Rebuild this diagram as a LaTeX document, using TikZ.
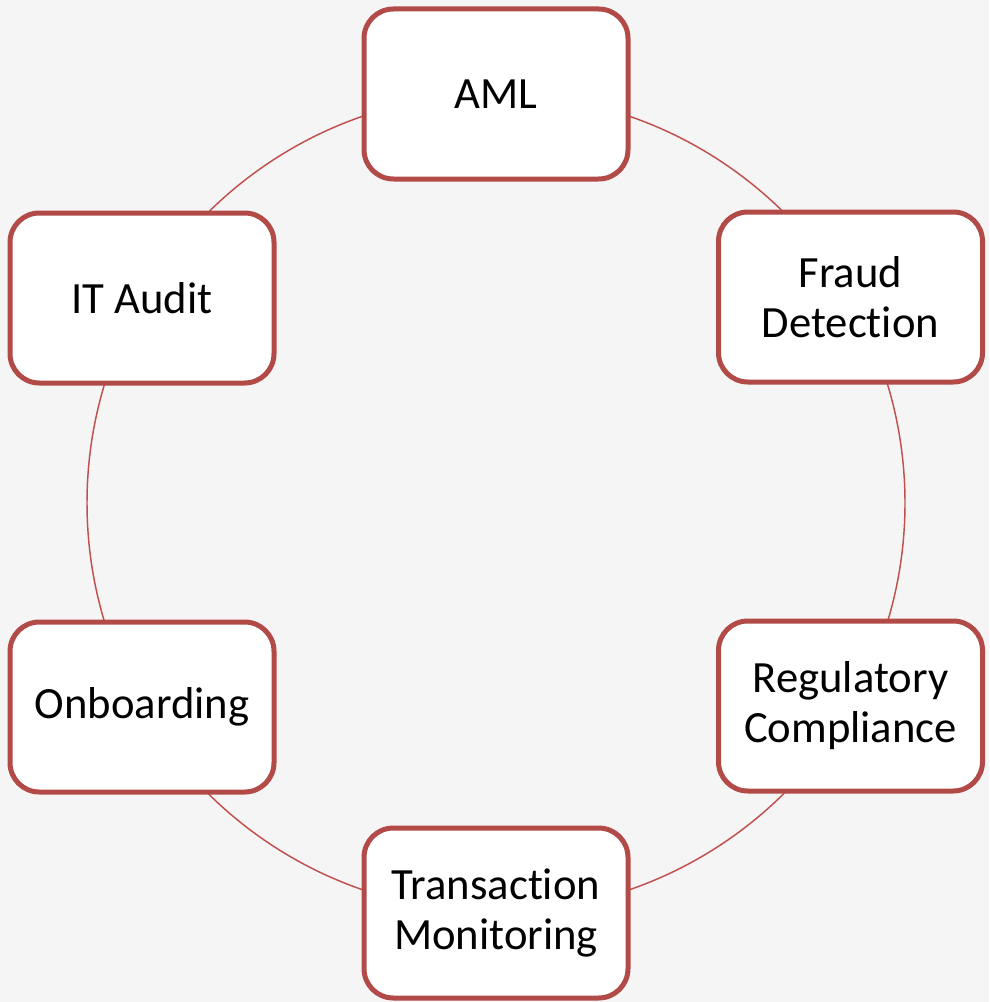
\documentclass[tikz,border=0pt]{standalone}
\usepackage{fontspec}
\setmainfont[Ligatures={NoCommon}]{Carlito}
\definecolor{bg}{HTML}{F5F5F5}
\definecolor{boxline}{HTML}{B24A48}
\definecolor{ringline}{HTML}{C0504D}
\begin{document}
\begin{tikzpicture}[x=0.75pt,y=-0.75pt,
  topic/.style={draw=boxline, line width=3.75pt, fill=white, rounded corners=22pt,
    minimum width=198pt, minimum height=127.5pt, align=center,
    font=\fontsize{33.5}{37.5}\selectfont, inner sep=0pt}]
\fill[bg] (0,0) rectangle (989,1002);
\useasboundingbox (0,0) rectangle (989,1002);
\draw[ringline, line width=1.1pt] (496,503) circle[radius=306.75pt];
\node[topic] (aml) at (496,94) {AML};
\node[topic] (fraud) at (850.5,297) {Fraud\\Detection};
\node[topic] (reg) at (850.5,706) {Regulatory\\Compliance};
\node[topic] (trans) at (496,913) {Transaction\\Monitoring};
\node[topic] (onb) at (142,707) {Onboarding};
\node[topic] (it) at (142,298) {IT Audit};
\end{tikzpicture}
\end{document}
